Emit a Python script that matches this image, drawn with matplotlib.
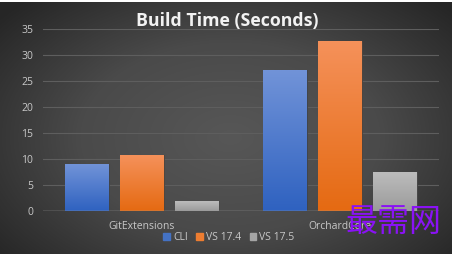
import numpy as np
import matplotlib
matplotlib.use("Agg")
import matplotlib.pyplot as plt
from matplotlib.colors import LinearSegmentedColormap

categories = ["GitExtensions", "OrchardCore"]
series_names = ["CLI", "VS 17.4", "VS 17.5"]
cli = [9.0, 27.1]
vs174 = [10.7, 32.6]
vs175 = [1.9, 7.5]
yticks = [0, 5, 10, 15, 20, 25, 30, 35]
title = "Build Time (Seconds)"

series = [cli, vs174, vs175]
top_cols = ["#7193d8", "#f5915a", "#bcbcbc"]
bot_cols = ["#2f62c0", "#e56a12", "#9b9b9b"]
legend_cols = ["#4472c4", "#ed7d31", "#a5a5a5"]

plt.rcParams['font.family'] = ['Open Sans', 'DejaVu Sans']

fig = plt.figure(figsize=(4.58, 2.54), dpi=100)
fig.patch.set_facecolor("white")

# background with radial gradient
bg = fig.add_axes([0, 0, 452/458, 1 - 2/254])
yy, xx = np.mgrid[0:252, 0:452]
r = np.sqrt(((xx - 230) / 300.0) ** 2 + ((yy - 135) / 190.0) ** 2)
vals = np.clip(1 - r, 0, 1)
cmap_bg = LinearSegmentedColormap.from_list("bg", ["#262626", "#4a4a4a", "#575757"])
bg.imshow(vals, cmap=cmap_bg, aspect="auto", vmin=0, vmax=1, interpolation="bilinear")
bg.set_axis_off()

ax = fig.add_axes([43/458, 1 - 211/254, (439 - 43)/458, (211 - 29)/254])
ax.set_facecolor("none")
ax.patch.set_alpha(0)

x = np.arange(len(categories)) + 0.5
width = 0.222
step = 0.278
for i, (vals_s, name) in enumerate(zip(series, series_names)):
    pos = x + (i - 1) * step
    bars = ax.bar(pos, vals_s, width, color=legend_cols[i], edgecolor="#404040",
                  linewidth=0.6, label=name, zorder=3)
    cm = LinearSegmentedColormap.from_list("g%d" % i, [bot_cols[i], top_cols[i]])
    grad = np.linspace(0, 1, 100).reshape(-1, 1)
    for b in bars:
        x0 = b.get_x()
        w = b.get_width()
        h = b.get_height()
        im = ax.imshow(grad, cmap=cm, origin="lower", aspect="auto",
                       extent=(x0, x0 + w, 0, h), zorder=3.5)
        im.set_clip_path(b)

ax.set_xlim(0, 2)
ax.set_ylim(0, 35)
ax.set_yticks(yticks)
ax.set_yticklabels([str(t) for t in yticks], color="#c8c8c8", fontsize=7.5)
ax.set_xticks(x)
ax.set_xticklabels(categories, color="#c8c8c8", fontsize=7.5)
ax.tick_params(axis="both", length=0, pad=7)
ax.tick_params(axis="x", pad=7)
for s in ax.spines.values():
    s.set_visible(False)
ax.grid(axis="y", color="#5e5e5e", linewidth=0.8, zorder=0)
ax.axhline(0, color="#a0a0a0", linewidth=1.0, zorder=4)

fig.text(227/458, 1 - 21/254, title, ha="center", va="center", fontsize=12.8,
         fontweight="bold", color="#f2f2f2")

handles = [plt.Rectangle((0, 0), 1, 1, color=c) for c in legend_cols]
leg = fig.legend(handles, series_names, loc="center", bbox_to_anchor=(229/458, 1 - 238/254),
                 ncol=3, frameon=False, fontsize=7.5, handlelength=0.65, handleheight=0.65,
                 handletextpad=0.3, columnspacing=0.8, labelcolor="#c8c8c8")

fig.text(393/458, 1 - 222/254, "最需网", ha="center", va="center", fontsize=23,
         color="#8a12f5", family=["Noto Sans CJK SC", "DejaVu Sans"])

fig.savefig("out.png", dpi=100, facecolor=fig.get_facecolor())
